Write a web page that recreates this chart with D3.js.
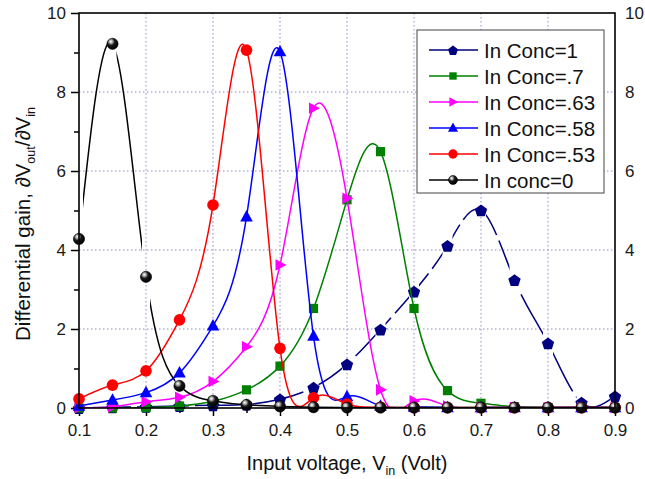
<!DOCTYPE html>
<html>
<head>
<meta charset="utf-8">
<script src="https://cdn.jsdelivr.net/npm/d3@7"></script>
<style>
  html, body { margin: 0; padding: 0; background: #fff; }
  svg { display: block; font-family: "Liberation Sans", Arial, sans-serif; }
</style>
</head>
<body>
<svg id="chart" width="645" height="479"></svg>
<script>
// Input voltage samples (V)
const vin = [0.1, 0.15, 0.2, 0.25, 0.3, 0.35, 0.4, 0.45, 0.5, 0.55, 0.6, 0.65, 0.7, 0.75, 0.8, 0.85, 0.9];

// Differential gain for each In concentration
const gainConc1   = [0.00, 0.02, 0.03, 0.05, 0.07, 0.09, 0.22, 0.52, 1.11, 1.99, 2.95, 4.11, 5.01, 3.24, 1.64, 0.14, 0.30];
const gainConc07  = [0.00, 0.00, 0.01, 0.05, 0.17, 0.46, 1.06, 2.52, 5.27, 6.49, 2.52, 0.44, 0.12, 0.03, 0.01, 0.01, 0.01];
const gainConc063 = [0.01, 0.03, 0.16, 0.27, 0.67, 1.55, 3.62, 7.59, 5.31, 0.46, 0.18, 0.05, 0.01, 0.01, 0.01, 0.01, 0.01];
const gainConc058 = [0.05, 0.20, 0.39, 0.89, 2.08, 4.84, 9.02, 1.82, 0.29, 0.05, 0.02, 0.01, 0.01, 0.01, 0.01, 0.01, 0.01];
const gainConc053 = [0.23, 0.58, 0.94, 2.23, 5.14, 9.06, 1.51, 0.26, 0.10, 0.02, 0.01, 0.01, 0.01, 0.01, 0.01, 0.01, 0.01];
const gainConc0   = [4.28, 9.22, 3.32, 0.56, 0.18, 0.08, 0.04, 0.02, 0.01, 0.01, 0.01, 0.01, 0.01, 0.01, 0.01, 0.01, 0.01];

const seriesNames = ["In Conc=1", "In Conc=.7", "In Conc=.63", "In Conc=.58", "In Conc=.53", "In conc=0"];
const seriesValues = [gainConc1, gainConc07, gainConc063, gainConc058, gainConc053, gainConc0];

const xTicks = [0.1, 0.2, 0.3, 0.4, 0.5, 0.6, 0.7, 0.8, 0.9];
const yTicks = [0, 2, 4, 6, 8, 10];

// Drawing styles per series
const styles = [
  { color: "#000080", symbol: "pentagon", dash: "52,6", gap: 5 },
  { color: "#008000", symbol: "square",   dash: null,   gap: 0 },
  { color: "#ff00ff", symbol: "right",    dash: null,   gap: 0 },
  { color: "#0000ff", symbol: "up",       dash: null,   gap: 0 },
  { color: "#ff0000", symbol: "circle",   dash: null,   gap: 0 },
  { color: "#000000", symbol: "sphere",   dash: null,   gap: 4 }
];

const W = 645, H = 479;
const m = { left: 79, right: 30, top: 13, bottom: 71 };
const svg = d3.select("#chart");
const x = d3.scaleLinear().domain([0.1, 0.9]).range([m.left, W - m.right]);
const y = d3.scaleLinear().domain([0, 10]).range([H - m.bottom, m.top]);
const x0 = x.range()[0], x1 = x.range()[1], y0 = y.range()[0], y1 = y.range()[1];

const defs = svg.append("defs");
defs.append("clipPath").attr("id", "plotClip")
  .append("rect").attr("x", x0).attr("y", y1).attr("width", x1 - x0).attr("height", y0 - y1);

const grad = defs.append("radialGradient").attr("id", "ball")
  .attr("cx", "0.38").attr("cy", "0.32").attr("r", "0.65").attr("fx", "0.35").attr("fy", "0.3");
grad.append("stop").attr("offset", "0").attr("stop-color", "#ffffff");
grad.append("stop").attr("offset", "0.22").attr("stop-color", "#b0b0b0");
grad.append("stop").attr("offset", "0.5").attr("stop-color", "#1a1a1a");
grad.append("stop").attr("offset", "1").attr("stop-color", "#000");

// Grid
const grid = svg.append("g").attr("stroke", "#8a8ad0").attr("stroke-width", 1).attr("stroke-dasharray", "1.5,2.5");
[2, 4, 6, 8].forEach(v => grid.append("line").attr("x1", x0).attr("x2", x1).attr("y1", y(v)).attr("y2", y(v)));
[0.2, 0.3, 0.4, 0.5, 0.6, 0.7, 0.8].forEach(v => grid.append("line").attr("y1", y1).attr("y2", y0).attr("x1", x(v)).attr("x2", x(v)));

// Axes
const fmtX = d3.format(".1f");
const minorX = d3.range(0.15, 0.9, 0.1);
const minorY = [1, 3, 5, 7, 9];

function styleAxis(g) {
  g.select(".domain").remove();
  g.selectAll(".tick line").attr("stroke", "#000").attr("stroke-width", 1.5);
  g.selectAll(".tick text").attr("fill", "#1a1a1a").style("font-size", "17px")
    .style("font-family", "'Liberation Sans', Arial, sans-serif");
}
svg.append("g").attr("transform", `translate(0,${y0})`)
  .call(d3.axisBottom(x).tickValues(xTicks).tickFormat(fmtX).tickSize(8).tickPadding(8)).call(styleAxis);
svg.append("g").attr("transform", `translate(0,${y0})`)
  .call(d3.axisBottom(x).tickValues(minorX).tickFormat("").tickSize(5)).call(styleAxis);
svg.append("g").attr("transform", `translate(${x0},0)`)
  .call(d3.axisLeft(y).tickValues(yTicks).tickSize(8).tickPadding(5)).call(styleAxis);
svg.append("g").attr("transform", `translate(${x0},0)`)
  .call(d3.axisLeft(y).tickValues(minorY).tickFormat("").tickSize(5)).call(styleAxis);
svg.append("g").attr("transform", `translate(${x1},0)`)
  .call(d3.axisRight(y).tickValues(yTicks).tickSize(0).tickPadding(10)).call(styleAxis);

// Symbol shapes
function pentagonPath(r) {
  const pts = d3.range(5).map(i => {
    const a = -Math.PI / 2 + i * 2 * Math.PI / 5;
    return [r * Math.cos(a), r * Math.sin(a)];
  });
  return "M" + pts.map(p => p.join(",")).join("L") + "Z";
}
function drawMarker(g, kind, color, cx, cy, s) {
  const k = s || 1;
  const t = g.append("g").attr("transform", `translate(${cx},${cy})`);
  if (kind === "pentagon") t.append("path").attr("d", pentagonPath(6.5 * k)).attr("transform", "translate(0,0.8)").attr("fill", color);
  else if (kind === "square") t.append("rect").attr("x", -4.6 * k).attr("y", -4.6 * k).attr("width", 9.2 * k).attr("height", 9.2 * k).attr("fill", color);
  else if (kind === "right") t.append("path").attr("d", `M${-4.5 * k},${-5.8 * k}L${6.5 * k},0L${-4.5 * k},${5.8 * k}Z`).attr("fill", color);
  else if (kind === "up") t.append("path").attr("d", `M0,${-6.8 * k}L${6.3 * k},${4.6 * k}L${-6.3 * k},${4.6 * k}Z`).attr("fill", color);
  else if (kind === "circle") t.append("circle").attr("r", 5.8 * k).attr("fill", color);
  else if (kind === "sphere") t.append("circle").attr("r", 5.6 * k).attr("fill", "url(#ball)").attr("stroke", "#000").attr("stroke-width", 0.6);
}

// Series curves and markers
const line = d3.line().x(d => x(d[0])).y(d => y(d[1])).curve(d3.curveNatural);
const plot = svg.append("g");
seriesValues.forEach((vals, i) => {
  const st = styles[i];
  const pts = vin.map((v, j) => [v, vals[j]]);
  let maskId = null;
  if (st.gap > 0) {
    maskId = "gap" + i;
    const mk = defs.append("mask").attr("id", maskId).attr("maskUnits", "userSpaceOnUse")
      .attr("x", 0).attr("y", 0).attr("width", W).attr("height", H);
    mk.append("rect").attr("x", 0).attr("y", 0).attr("width", W).attr("height", H).attr("fill", "#fff");
    pts.forEach(p => mk.append("rect").attr("x", x(p[0]) - st.gap).attr("y", 0)
      .attr("width", 2 * st.gap).attr("height", H).attr("fill", "#000"));
  }
  const lg = plot.append("g").attr("clip-path", "url(#plotClip)");
  const path = lg.append("path").datum(pts).attr("d", line)
    .attr("fill", "none").attr("stroke", st.color).attr("stroke-width", 1.5);
  if (st.dash) path.attr("stroke-dasharray", st.dash);
  if (maskId) path.attr("mask", `url(#${maskId})`);
  const mg = plot.append("g");
  pts.forEach(p => drawMarker(mg, st.symbol, st.color, x(p[0]), y(p[1])));
});

// Frame
svg.append("rect").attr("x", x0).attr("y", y1).attr("width", x1 - x0).attr("height", y0 - y1)
  .attr("fill", "none").attr("stroke", "#000").attr("stroke-width", 1.6);

// Legend
const lgX = 417, lgY = 30, lgW = 187, lgH = 163;
const legend = svg.append("g");
legend.append("rect").attr("x", lgX).attr("y", lgY).attr("width", lgW).attr("height", lgH)
  .attr("fill", "#fff").attr("stroke", "#444").attr("stroke-width", 1);
seriesNames.forEach((name, i) => {
  const st = styles[i];
  const cy = 50 + i * 26;
  legend.append("line").attr("x1", 429).attr("x2", 478).attr("y1", cy).attr("y2", cy)
    .attr("stroke", st.color).attr("stroke-width", 1.5);
  drawMarker(legend, st.symbol, st.color, 453, cy, 0.8);
  legend.append("text").attr("x", 484).attr("y", cy + 7.5).attr("fill", "#111")
    .style("font-size", "20.5px").text(name);
});

// Axis titles
const xt = svg.append("text").attr("x", 347).attr("y", 470).attr("text-anchor", "middle")
  .attr("fill", "#111").style("font-size", "20px");
xt.append("tspan").text("Input voltage, V");
xt.append("tspan").attr("dy", 5).style("font-size", "12.5px").text("in");
xt.append("tspan").attr("dy", -5).text(" (Volt)");

const yt = svg.append("text").attr("transform", "translate(30,224) rotate(-90)").attr("text-anchor", "middle")
  .attr("fill", "#111").style("font-size", "20.5px");
yt.append("tspan").text("Differential gain, \u2202V");
yt.append("tspan").attr("dy", 5).style("font-size", "12.5px").text("out");
yt.append("tspan").attr("dy", -5).text("/\u2202V");
yt.append("tspan").attr("dy", 5).style("font-size", "12.5px").text("in");
</script>
</body>
</html>
